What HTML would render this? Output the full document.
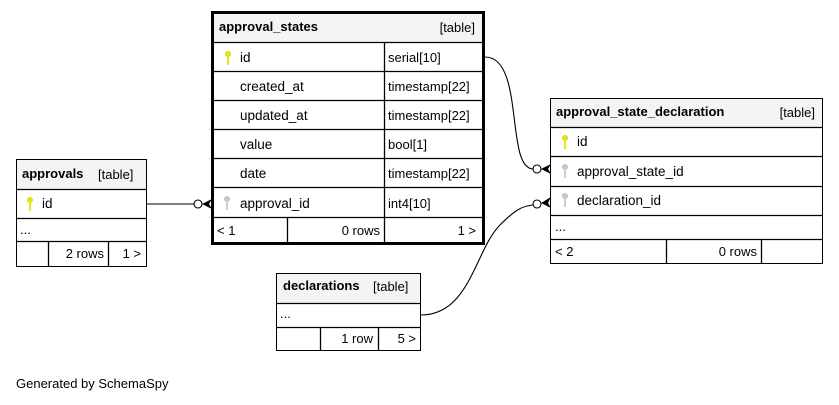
<!DOCTYPE html>
<html><head><meta charset="utf-8"><style>
html,body{margin:0;padding:0;background:#fff;}
svg{display:block;font-family:"Liberation Sans",Arial,sans-serif;}
.t{font-size:13.5px;fill:#000}
.b{font-size:13px;font-weight:bold;fill:#000}
.s{font-size:13px;fill:#000}
</style></head><body>
<svg width="839" height="405" viewBox="0 0 839 405" xmlns="http://www.w3.org/2000/svg">
<defs>
<g id="ky"><circle cx="0" cy="-4" r="2.6" fill="#e6e600" stroke="#c8c800" stroke-width="0.6"/><rect x="-0.9" y="-2" width="1.8" height="9" fill="#e6e600"/></g>
<g id="kg"><circle cx="0" cy="-4" r="2.6" fill="#c8c8c8" stroke="#b0b0b0" stroke-width="0.6"/><rect x="-0.9" y="-2" width="1.8" height="9" fill="#c8c8c8"/></g>
</defs>
<rect width="839" height="405" fill="#fff"/>

<!-- approval_states -->
<rect x="212.5" y="12.5" width="271" height="231" fill="#fff" stroke="#000" stroke-width="3"/>
<rect x="214" y="14" width="268" height="28" fill="#f4f4f4"/>
<g stroke="#000" stroke-width="1.3" fill="none">
<line x1="212" y1="42.5" x2="484" y2="42.5"/>
<line x1="212" y1="71.5" x2="484" y2="71.5"/>
<line x1="212" y1="100.5" x2="484" y2="100.5"/>
<line x1="212" y1="129.5" x2="484" y2="129.5"/>
<line x1="212" y1="158.5" x2="484" y2="158.5"/>
<line x1="212" y1="187.5" x2="484" y2="187.5"/>
<line x1="212" y1="217.5" x2="484" y2="217.5"/>
<line x1="384.5" y1="42" x2="384.5" y2="243"/>
<line x1="287.5" y1="217" x2="287.5" y2="243"/>
</g>
<text x="219" y="31" class="b">approval_states</text>
<text x="475" y="32" class="s" text-anchor="end">[table]</text>
<use href="#ky" x="228" y="58"/>
<text x="240" y="62" class="t">id</text><text x="388" y="62" class="s">serial[10]</text>
<text x="240" y="91" class="t">created_at</text><text x="388" y="91" class="s">timestamp[22]</text>
<text x="240" y="120" class="t">updated_at</text><text x="388" y="120" class="s">timestamp[22]</text>
<text x="240" y="149" class="t">value</text><text x="388" y="149" class="s">bool[1]</text>
<text x="240" y="178" class="t">date</text><text x="388" y="178" class="s">timestamp[22]</text>
<use href="#kg" x="227" y="203"/>
<text x="240" y="208" class="t">approval_id</text><text x="388" y="208" class="s">int4[10]</text>
<text x="217" y="235" class="s">&lt; 1</text>
<text x="380" y="235" class="s" text-anchor="end">0 rows</text>
<text x="476" y="235" class="s" text-anchor="end">1 &gt;</text>

<!-- approval_state_declaration -->
<rect x="550.5" y="98.5" width="272" height="165" fill="#fff" stroke="#000"/>
<rect x="551" y="99" width="271" height="28" fill="#f4f4f4"/>
<g stroke="#000" stroke-width="1.3" fill="none">
<line x1="550" y1="127.5" x2="823" y2="127.5"/>
<line x1="550" y1="156.5" x2="823" y2="156.5"/>
<line x1="550" y1="186.5" x2="823" y2="186.5"/>
<line x1="550" y1="215.5" x2="823" y2="215.5"/>
<line x1="550" y1="239.5" x2="823" y2="239.5"/>
<line x1="666.5" y1="239" x2="666.5" y2="263"/>
<line x1="761.5" y1="239" x2="761.5" y2="263"/>
</g>
<text x="556" y="116" class="b">approval_state_declaration</text>
<text x="815" y="117" class="s" text-anchor="end">[table]</text>
<use href="#ky" x="565" y="142"/><text x="577" y="146" class="t">id</text>
<use href="#kg" x="565" y="171"/><text x="577" y="176" class="t">approval_state_id</text>
<use href="#kg" x="565" y="200"/><text x="577" y="205" class="t">declaration_id</text>
<text x="555" y="231" class="s">...</text>
<text x="555" y="256" class="s">&lt; 2</text>
<text x="757" y="256" class="s" text-anchor="end">0 rows</text>

<!-- approvals -->
<rect x="16.5" y="159.5" width="130" height="107" fill="#fff" stroke="#000"/>
<rect x="17" y="160" width="129" height="29" fill="#f4f4f4"/>
<g stroke="#000" stroke-width="1.3" fill="none">
<line x1="16" y1="189.5" x2="147" y2="189.5"/>
<line x1="16" y1="218.5" x2="147" y2="218.5"/>
<line x1="16" y1="241.5" x2="147" y2="241.5"/>
<line x1="48.5" y1="241" x2="48.5" y2="266"/>
<line x1="108.5" y1="241" x2="108.5" y2="266"/>
</g>
<text x="22" y="178" class="b">approvals</text>
<text x="98" y="179" class="s">[table]</text>
<use href="#ky" x="30" y="204"/><text x="42" y="208" class="t">id</text>
<text x="20" y="234" class="s">...</text>
<text x="104" y="258" class="s" text-anchor="end">2 rows</text>
<text x="141" y="258" class="s" text-anchor="end">1 &gt;</text>

<!-- declarations -->
<rect x="276.5" y="273.5" width="144" height="77" fill="#fff" stroke="#000"/>
<rect x="277" y="274" width="143" height="29" fill="#f4f4f4"/>
<g stroke="#000" stroke-width="1.3" fill="none">
<line x1="276" y1="303.5" x2="421" y2="303.5"/>
<line x1="276" y1="327.5" x2="421" y2="327.5"/>
<line x1="320.5" y1="327" x2="320.5" y2="350"/>
<line x1="378.5" y1="327" x2="378.5" y2="350"/>
</g>
<text x="283" y="290" class="b">declarations</text>
<text x="373" y="291" class="s">[table]</text>
<text x="280" y="318" class="s">...</text>
<text x="373" y="343" class="s" text-anchor="end">1 row</text>
<text x="416" y="343" class="s" text-anchor="end">5 &gt;</text>

<!-- connectors -->
<g stroke="#000" stroke-width="1.1" fill="none">
<path d="M147,204 L194,204"/>
<circle cx="198" cy="204" r="4" fill="#fff"/>
<path d="M485,57 C525,57 505,168 533,169"/>
<circle cx="537" cy="169" r="4" fill="#fff"/>
<path d="M421,315 C470,315 475,250 500,225 C515,210 522,206 533,205"/>
<circle cx="537" cy="204" r="4" fill="#fff"/>
</g>
<g fill="#000">
<path d="M202,204 L212,199 L209,204 L212,209 Z"/>
<path d="M541,169 L551,164 L548,169 L551,174 Z"/>
<path d="M541,203 L551,197 L548,203 L551,208 Z"/>
</g>

<text x="16" y="388" class="s">Generated by SchemaSpy</text>
</svg>
</body></html>
